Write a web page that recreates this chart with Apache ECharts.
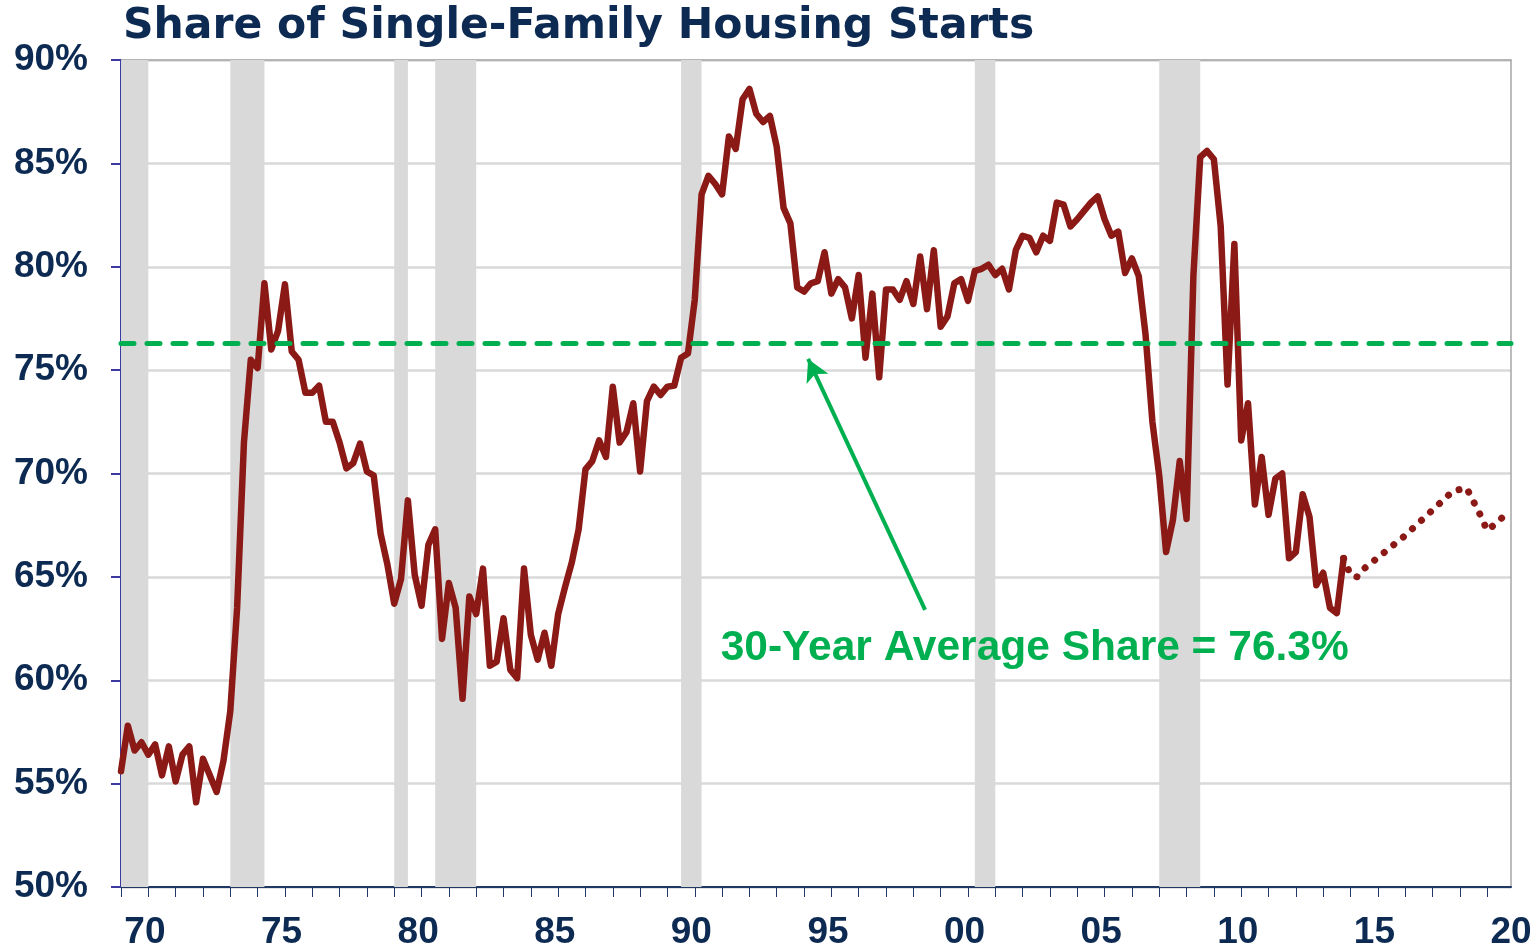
<!DOCTYPE html>
<html>
<head>
<meta charset="utf-8">
<script src="https://cdn.jsdelivr.net/npm/echarts@6/dist/echarts.min.js"></script>
<style>
  html, body { margin: 0; padding: 0; background: #fff; }
  #chart { width: 1539px; height: 951px; }
</style>
</head>
<body>
<div id="chart"></div>
<script>
// quarterly share (%), starting 1970 Q1
var startYear = 1970;
var shareValues = [
  55.6, 57.8, 56.6, 57.0, 56.4, 56.9, 55.4, 56.8, 55.1, 56.4,
  56.8, 54.1, 56.2, 55.4, 54.6, 56.1, 58.5, 63.5, 71.5, 75.5,
  75.1, 79.2, 76.0, 76.9, 79.15, 75.9, 75.5, 73.9, 73.9, 74.25,
  72.5, 72.5, 71.5, 70.25, 70.5, 71.45, 70.1, 69.9, 67.1, 65.6,
  63.7, 64.9, 68.7, 65.1, 63.6, 66.55, 67.3, 62.0, 64.7, 63.5,
  59.1, 64.05, 63.2, 65.4, 60.7, 60.9, 63.0, 60.5, 60.1, 65.4,
  62.2, 61.0, 62.3, 60.7, 63.2, 64.5, 65.7, 67.3, 70.2, 70.6,
  71.6, 70.8, 74.2, 71.5, 72.0, 73.4, 70.1, 73.5, 74.2, 73.8,
  74.2, 74.25, 75.6, 75.8, 78.4, 83.5, 84.4, 84.0, 83.5, 86.3,
  85.7, 88.1, 88.6, 87.4, 87.0, 87.3, 85.8, 82.85, 82.1, 79.0,
  78.8, 79.2, 79.3, 80.7, 78.7, 79.4, 79.0, 77.5, 79.6, 75.6,
  78.7, 74.65, 78.9, 78.9, 78.4, 79.3, 78.2, 80.5, 77.95, 80.8,
  77.1, 77.6, 79.2, 79.4, 78.35, 79.8, 79.9, 80.1, 79.6, 79.9,
  78.9, 80.8, 81.5, 81.4, 80.7, 81.5, 81.25, 83.1, 83.0, 81.95,
  82.3, 82.7, 83.1, 83.4, 82.3, 81.5, 81.7, 79.7, 80.4, 79.55,
  76.7, 72.5, 69.9, 66.2, 67.75, 70.6, 67.8, 79.55, 85.3, 85.6,
  85.2, 81.95, 74.3, 81.1, 71.6, 73.4, 68.5, 70.8, 68.0, 69.75,
  70.0, 65.9, 66.2, 69.0, 67.9, 64.6, 65.2, 63.5, 63.25, 65.9
];

// forecast (dotted) vertices
var forecastDates = [2014.75, 2015.0, 2015.25, 2015.5, 2017.0, 2018.75, 2019.25, 2019.5, 2019.75, 2020.0, 2020.25, 2020.75];
var forecastValues = [65.9, 65.1, 65.0, 65.4, 67.0, 69.15, 69.3, 68.65, 68.0, 67.25, 67.5, 68.1];

// recessions, shaded
var recessionStarts = [1970.0, 1974.0, 1980.0, 1981.5, 1990.5, 2001.25, 2008.0];
var recessionEnds   = [1971.0, 1975.25, 1980.5, 1983.0, 1991.25, 2002.0, 2009.5];

var avgShare = 76.3;
var avgLabel = '30-Year Average Share = 76.3%';

var xLabelYears = [1970, 1975, 1980, 1985, 1990, 1995, 2000, 2005, 2010, 2015, 2020];

var navy = '#0c2a52';
var red = '#8b1a16';
var green = '#00b050';

var lineData = shareValues.map(function (v, i) { return [startYear + i / 4, v]; });
var forecastData = forecastDates.map(function (d, i) { return [d, forecastValues[i]]; });
var areas = recessionStarts.map(function (s, i) { return [{ xAxis: s }, { xAxis: recessionEnds[i] }]; });
var tickYears = [];
for (var y = 1970; y <= 2020; y++) tickYears.push(y);

var myChart = echarts.init(document.getElementById('chart'));

option = {
	animation: false,
	title: {
		text: 'Share of Single-Family Housing Starts',
		left: 118,
		top: 0,
		textStyle: {
			fontFamily: 'DejaVu Sans',
			fontWeight: 'bold',
			fontSize: 42.5,
			color: navy
		}
	},
	grid: {
		left: 121,
		right: 28,
		top: 60,
		bottom: 61
	},
	xAxis: [{
		type: 'value',
		min: 1970,
		max: 2020.875,
		splitLine: { show: false },
		axisLine: { lineStyle: { color: '#1f3864', width: 2 } },
		axisTick: {
			show: true,
			length: 10,
			customValues: tickYears,
			lineStyle: { color: '#1f3864', width: 1 }
		},
		axisLabel: {
			customValues: xLabelYears.map(function (y) { return y + 0.875; }),
			formatter: function (v) { return String(Math.floor(v)).slice(2); },
			margin: 27,
			fontFamily: 'Liberation Sans',
			fontWeight: 'bold',
			fontSize: 37,
			color: navy
		}
	}, {
		type: 'value',
		position: 'top',
		min: 1970,
		max: 2020.875,
		axisLine: { show: true, lineStyle: { color: '#a6a6a6', width: 1.5 } },
		axisTick: { show: false },
		axisLabel: { show: false },
		splitLine: { show: false }
	}],
	yAxis: [{
		type: 'value',
		min: 50,
		max: 90,
		interval: 5,
		axisLine: { show: true, lineStyle: { color: '#3a3aa0', width: 2 } },
		axisTick: { show: true, length: 10, lineStyle: { color: '#3a3aa0', width: 2 } },
		axisLabel: {
			formatter: '{value}%',
			margin: 33,
			fontFamily: 'Liberation Sans',
			fontWeight: 'bold',
			fontSize: 37,
			color: navy
		},
		splitLine: { show: true, lineStyle: { color: '#d9d9d9', width: 2.5 } }
	}, {
		type: 'value',
		position: 'right',
		min: 50,
		max: 90,
		interval: 5,
		axisLine: { show: true, lineStyle: { color: '#a6a6a6', width: 1.5 } },
		axisTick: { show: false },
		axisLabel: { show: false },
		splitLine: { show: false }
	}],
	series: [
		{
			name: 'Share',
			type: 'line',
			data: lineData,
			symbol: 'none',
			lineStyle: { color: red, width: 6.5, join: 'round', cap: 'round' },
			z: 3,
			markArea: {
				silent: true,
				itemStyle: { color: '#d9d9d9' },
				data: areas
			},
			markLine: {
				silent: true,
				symbol: ['none', 'none'],
				label: { show: false },
				data: [
					{
						yAxis: avgShare,
						lineStyle: { color: green, width: 5, type: [13, 13], cap: 'round' }
					},
					[
						{ coord: [1999.43, 63.4], symbol: 'none', lineStyle: { color: green, width: 4, type: 'solid' } },
						{ coord: [1995.15, 75.54], symbol: 'arrow', symbolSize: [18, 22] }
					]
				]
			},
			markPoint: {
				silent: true,
				symbol: 'circle',
				symbolSize: 1,
				itemStyle: { color: 'rgba(0,0,0,0)' },
				data: [{
					coord: [1991.93, 61.57],
					label: {
						show: true,
						position: 'right',
						distance: 0,
						formatter: avgLabel,
						fontFamily: 'Liberation Sans',
						fontWeight: 'bold',
						fontSize: 42.5,
						color: green
					}
				}]
			}
		},
		{
			name: 'Forecast',
			type: 'line',
			data: forecastData,
			symbol: 'none',
			lineStyle: { color: red, width: 7, type: [0.1, 12.2], cap: 'round' },
			z: 3
		}
	]
};

myChart.setOption(option);
window.addEventListener('resize', function () {
	myChart.resize();
});
</script>
</body>
</html>
